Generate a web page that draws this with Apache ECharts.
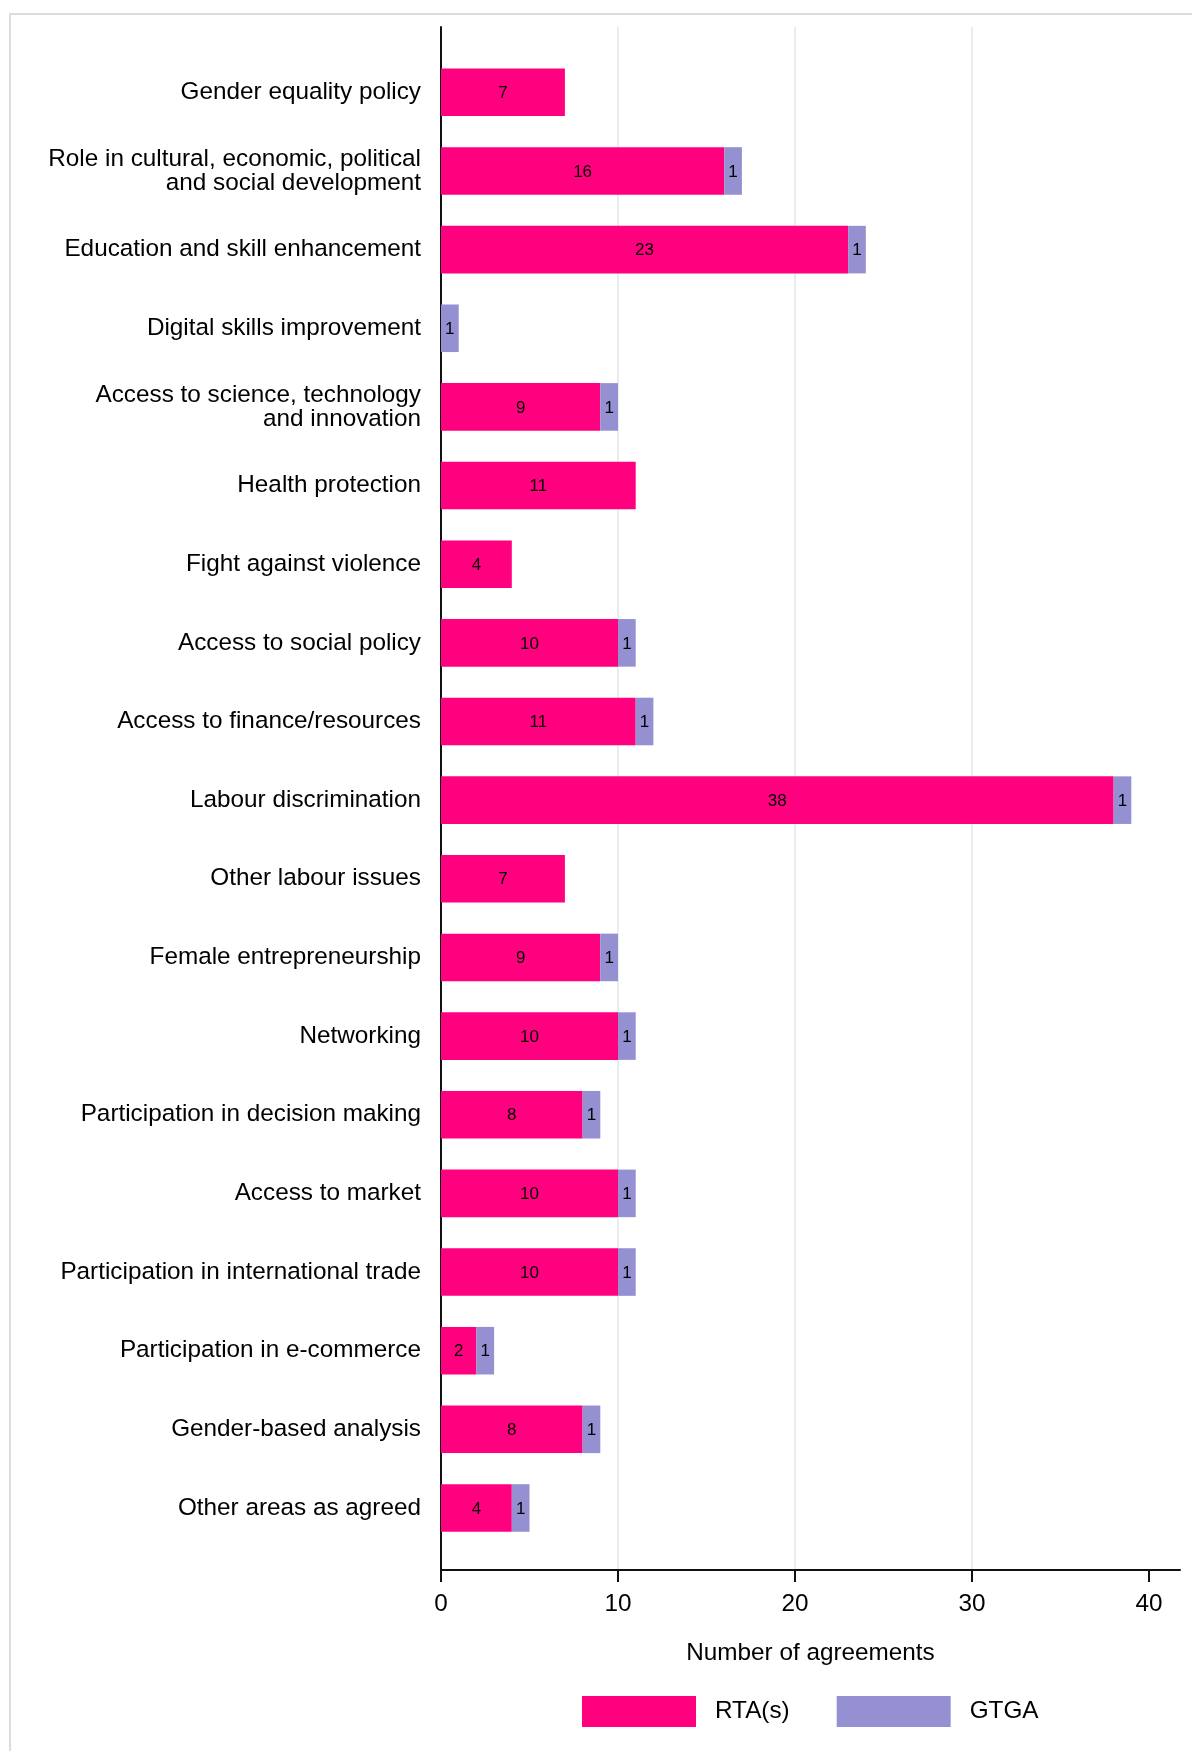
<!DOCTYPE html>
<html>
<head>
<meta charset="utf-8">
<script src="https://cdn.jsdelivr.net/npm/echarts@6/dist/echarts.min.js"></script>
<style>
html,body{margin:0;padding:0;background:#fff;}
#chart{width:1198px;height:1751px;}
</style>
</head>
<body>
<div id="chart"></div>
<script>
const categories = [
  'Gender equality policy',
  'Role in cultural, economic, political\nand social development',
  'Education and skill enhancement',
  'Digital skills improvement',
  'Access to science, technology\nand innovation',
  'Health protection',
  'Fight against violence',
  'Access to social policy',
  'Access to finance/resources',
  'Labour discrimination',
  'Other labour issues',
  'Female entrepreneurship',
  'Networking',
  'Participation in decision making',
  'Access to market',
  'Participation in international trade',
  'Participation in e-commerce',
  'Gender-based analysis',
  'Other areas as agreed'
];
const rtaValues  = [7, 16, 23, 0, 9, 11, 4, 10, 11, 38, 7, 9, 10, 8, 10, 10, 2, 8, 4];
const gtgaValues = [0, 1, 1, 1, 1, 0, 0, 1, 1, 1, 0, 1, 1, 1, 1, 1, 1, 1, 1];
const xTicks = [0, 10, 20, 30, 40];
const seriesNames = ['RTA(s)', 'GTGA'];

const FONT = '"Liberation Sans", Arial, Helvetica, sans-serif';
const FS = 24.3;
const chart = echarts.init(document.getElementById('chart'), null, {renderer: 'canvas'});

const labelStyle = {
  show: true,
  position: 'inside',
  color: '#000',
  fontSize: 17,
  fontFamily: FONT,
  offset: [0, 1],
  formatter: p => (p.value ? String(p.value) : '')
};

chart.setOption({
  animation: false,
  backgroundColor: '#fff',
  textStyle: {fontFamily: FONT},
  graphic: [{
    type: 'polyline',
    shape: {points: [[10, 1751], [10, 14], [1192, 14]]},
    style: {stroke: '#dcdcdc', lineWidth: 2, fill: null},
    silent: true,
    z: -10
  }],
  grid: [
    {left: 441, right: 18, top: 53, bottom: 203.7, containLabel: false},
    {left: 441, right: 18, top: 27, bottom: 181, containLabel: false}
  ],
  legend: {
    data: seriesNames,
    left: 582,
    top: 1696,
    padding: 0,
    itemWidth: 114,
    itemHeight: 31,
    itemGap: 47,
    icon: 'rect',
    textStyle: {fontSize: FS, color: '#000', fontFamily: FONT, padding: [0, 0, 0, 14]}
  },
  xAxis: [
    {
      type: 'value', gridIndex: 0, min: 0, max: 41.75, interval: 10,
      show: false
    },
    {
      type: 'value', gridIndex: 1, min: 0, max: 41.75, interval: 10,
      axisLine: {show: true, onZero: false, lineStyle: {color: '#111', width: 2}},
      axisTick: {show: true, length: 12, customValues: xTicks, lineStyle: {color: '#111', width: 2}},
      axisLabel: {show: true, customValues: xTicks, margin: 22, fontSize: FS, color: '#000', fontFamily: FONT},
      splitLine: {show: true, showMinLine: false, showMaxLine: false, lineStyle: {color: '#e6eef0', width: 2}},
      name: 'Number of agreements',
      nameLocation: 'middle',
      nameGap: 71,
      nameTextStyle: {fontSize: FS, color: '#000', fontFamily: FONT}
    }
  ],
  yAxis: [
    {
      type: 'category', gridIndex: 0, data: categories, inverse: true,
      axisLine: {show: false},
      axisTick: {show: false},
      axisLabel: {show: true, margin: 20, fontSize: FS, lineHeight: 24, color: '#000', fontFamily: FONT, align: 'right'},
      splitLine: {show: false}
    },
    {
      type: 'value', gridIndex: 1, min: 0, max: 1,
      axisLine: {show: true, onZero: false, lineStyle: {color: '#111', width: 2}},
      axisTick: {show: false},
      axisLabel: {show: false},
      splitLine: {show: false}
    }
  ],
  series: [
    {
      name: seriesNames[0], type: 'bar', stack: 'total',
      xAxisIndex: 0, yAxisIndex: 0,
      barWidth: '60.5%',
      data: rtaValues,
      itemStyle: {color: '#ff007f'},
      label: labelStyle,
      z: 3
    },
    {
      name: seriesNames[1], type: 'bar', stack: 'total',
      xAxisIndex: 0, yAxisIndex: 0,
      barWidth: '60.5%',
      data: gtgaValues,
      itemStyle: {color: '#9490d1'},
      label: labelStyle,
      z: 3
    }
  ]
});
</script>
</body>
</html>
